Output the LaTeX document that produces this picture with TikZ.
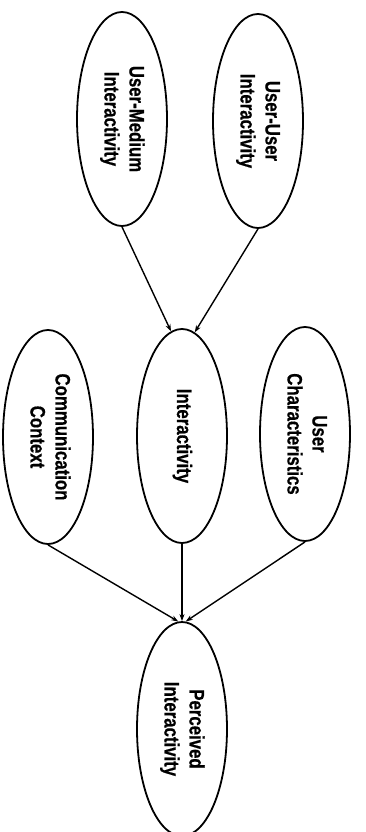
\documentclass[tikz,border=0pt]{standalone}
\usepackage{fontspec}
\setmainfont{Liberation Sans}[BoldFeatures={FakeBold=0.6}]
\usetikzlibrary{shapes.geometric,arrows.meta}
\tikzset{
  oval/.style={ellipse, draw, line width=1.8pt, inner sep=0pt,
    minimum width=90pt, minimum height=214pt, font=\bfseries\fontsize{21}{25}\selectfont},
  link/.style={line width=1.4pt, -{Stealth[length=7pt,width=5pt]}}
}
\newcommand{\vlab}[1]{\rotatebox{-90}{\scalebox{0.8}[1]{\begin{tabular}{@{}c@{}}#1\end{tabular}}}}
\begin{document}
\begin{tikzpicture}[x=1pt,y=-1pt]
\useasboundingbox (0,0) rectangle (366,832);
\clip (0,0) rectangle (366,832);
\node[oval] (um) at (122,119) {\vlab{User-Medium\\Interactivity}};
\node[oval] (uu) at (258,121) {\vlab{User-User\\Interactivity}};
\node[oval] (cc) at (48,437) {\vlab{Communication\\Context}};
\node[oval] (ia) at (182,436) {\vlab{Interactivity}};
\node[oval] (uc) at (305,434) {\vlab{User\\Characteristics}};
\node[oval] (pi) at (182,729) {\vlab{Perceived\\Interactivity}};
\draw[link] (um.south) -- (ia.96);
\draw[link] (uu.south) -- (ia.83);
\draw[link] (cc.south) -- (pi.92);
\draw[link] (ia.south) -- (pi.north);
\draw[link] (uc.south) -- (pi.88);
\end{tikzpicture}
\end{document}
